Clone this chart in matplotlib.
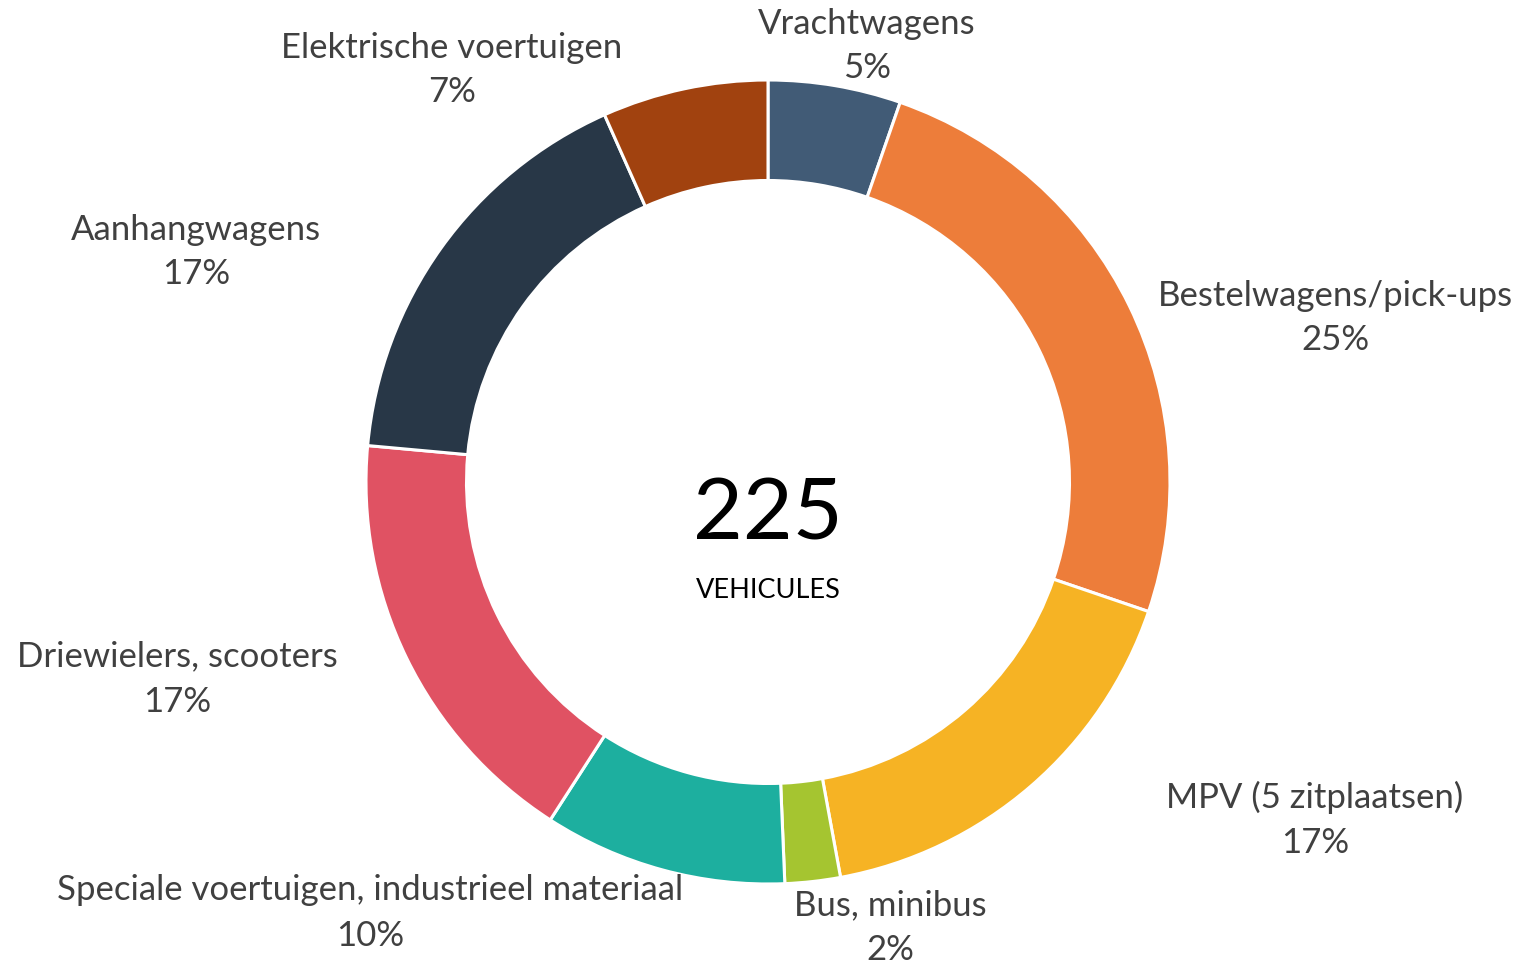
import matplotlib.pyplot as plt

# Vehicle categories (clockwise from top)
categories = ['Vrachtwagens', 'Bestelwagens/pick-ups', 'MPV (5 zitplaatsen)', 'Bus, minibus',
              'Speciale voertuigen, industrieel materiaal', 'Driewielers, scooters',
              'Aanhangwagens', 'Elektrische voertuigen']
counts = [12, 56, 38, 5, 22, 39, 38, 15]
colors = ['#415B76', '#ED7D3A', '#F6B324', '#A5C530', '#1DAF9F', '#E05263', '#283747', '#A1420F']

# label block centres in pixel coords (layout only)
label_pos = [(867, 921), (1335, 649), (1315, 147), (890, 39),
             (370, 54), (177, 288), (196, 715), (452, 897)]

W, H = 1517, 967
fig = plt.figure(figsize=(W / 100, H / 100), dpi=100)
ax = fig.add_axes([0, 0, 1, 1])
ax.set_xlim(0, W)
ax.set_ylim(0, H)
ax.set_aspect('equal')
ax.axis('off')

total = sum(counts)
ax.pie(counts, colors=colors, startangle=90, counterclock=False,
       center=(768, 485), radius=402,
       wedgeprops=dict(width=402 * 0.25, edgecolor='white', linewidth=2.2))

for name, c, (x, y) in zip(categories, counts, label_pos):
    pct = round(100 * c / total)
    ax.text(x, y, f'{name}\n{pct}%', ha='center', va='center', fontsize=25,
            family='Lato', color='#404040', linespacing=1.5)

ax.text(768, 967 - 515, str(total), ha='center', va='center', fontsize=62,
        family='Lato', color='black')
ax.text(768, 967 - 590, 'VEHICULES', ha='center', va='center', fontsize=19.5,
        family='Lato', color='black')

ax.set_xlim(0, W)
ax.set_ylim(0, H)
fig.savefig('out.png', dpi=100)
